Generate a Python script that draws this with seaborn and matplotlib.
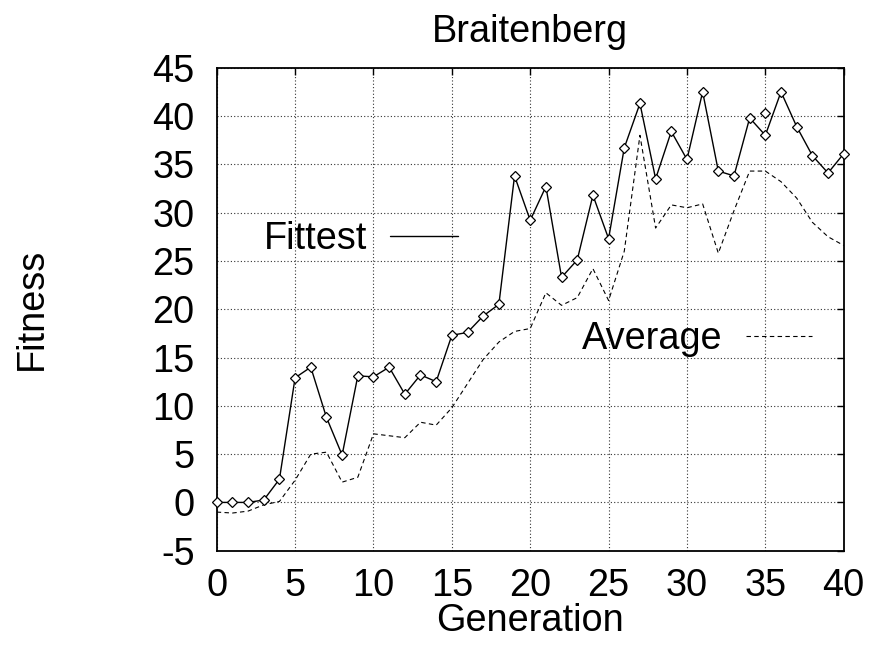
import matplotlib
matplotlib.use("Agg")
import matplotlib.pyplot as plt
from matplotlib.lines import Line2D
import seaborn as sns
import pandas as pd

# ---- data ----
generations = list(range(41))
fittest = [0.0, 0.0, 0.0, 0.25, 2.4, 12.9, 14.0, 8.8, 4.9, 13.1,
           13.0, 14.0, 11.2, 13.2, 12.5, 17.3, 17.6, 19.3, 20.5, 33.8,
           29.2, 32.7, 23.3, 25.1, 31.8, 27.3, 36.7, 41.3, 33.5, 38.4,
           35.5, 42.5, 34.3, 33.8, 39.8, 38.0, 42.5, 38.9, 35.9, 34.1,
           36.1]
average = [-1.0, -1.1, -0.9, -0.25, 0.1, 2.3, 5.0, 5.2, 2.1, 2.6,
           7.1, 6.9, 6.7, 8.3, 8.0, 9.8, 12.3, 14.8, 16.6, 17.7,
           18.0, 21.7, 20.4, 21.2, 24.2, 20.9, 26.0, 38.0, 28.4, 30.8,
           30.5, 30.9, 25.8, 30.2, 34.3, 34.3, 33.2, 31.5, 29.0, 27.5,
           26.6]
extra_x = [35]
extra_y = [40.3]

x_ticks = [0, 5, 10, 15, 20, 25, 30, 35, 40]
y_ticks = [-5, 0, 5, 10, 15, 20, 25, 30, 35, 40, 45]

title = "Braitenberg"
x_label = "Generation"
y_label = "Fitness"

df = pd.DataFrame({"Generation": generations, "Fittest": fittest, "Average": average})
df_extra = pd.DataFrame({"Generation": extra_x, "Fittest": extra_y})

# ---- style ----
sns.set_style("white")
plt.rcParams["font.family"] = ["Liberation Sans", "DejaVu Sans"]
plt.rcParams["text.color"] = "black"
plt.rcParams["axes.labelcolor"] = "black"
plt.rcParams["xtick.color"] = "black"
plt.rcParams["ytick.color"] = "black"
FS = 27.3

fig = plt.figure(figsize=(8.69, 6.46), dpi=100)
ax = fig.add_axes([0.2494, 0.1475, 0.7215, 0.7477])

sns.lineplot(data=df, x="Generation", y="Fittest", ax=ax, color="black", lw=1.0,
             marker="D", markersize=5, markerfacecolor="white",
             markeredgecolor="black", markeredgewidth=0.9, clip_on=False, zorder=4)
sns.lineplot(data=df, x="Generation", y="Average", ax=ax, color="black", lw=0.8,
             linestyle=(0, (4, 3)))
sns.scatterplot(data=df_extra, x="Generation", y="Fittest", ax=ax, marker="D",
                s=25, facecolor="white", edgecolor="black", linewidth=0.9, zorder=4)

ax.set_xlim(0, 40)
ax.set_ylim(-5, 45)
ax.set_xticks(x_ticks)
ax.set_yticks(y_ticks)
ax.set_xticklabels([str(v) for v in x_ticks])
ax.set_yticklabels([str(v) for v in y_ticks])

ax.grid(True, color="#333333", lw=0.8, linestyle=(0, (1, 2)))
for s in ax.spines.values():
    s.set_visible(True)
    s.set_color("black")
    s.set_linewidth(1.3)

ax.tick_params(axis="both", direction="in", length=5, width=1.0, top=True,
               right=True, labelsize=FS, colors="black")
ax.tick_params(axis="x", pad=12.5)
ax.tick_params(axis="y", pad=16)

ax.set_title(title, fontsize=FS, pad=18.5, color="black")
ax.set_xlabel(x_label, fontsize=FS, color="black")
ax.set_ylabel(y_label, fontsize=FS, color="black")
ax.xaxis.set_label_coords(0.5, -0.108)
ax.yaxis.set_label_coords(-0.266, 0.5)

# ---- free-floating keys (gnuplot style) ----
h_fit = Line2D([], [], color="black", lw=1.0)
h_avg = Line2D([], [], color="black", lw=0.8, linestyle=(0, (4, 3)))
leg1 = ax.legend([h_fit], ["Fittest"], loc="center left", bbox_to_anchor=(0.0748, 0.645),
                 frameon=False, markerfirst=False, fontsize=FS, borderpad=0,
                 borderaxespad=0, handlelength=1.8, handletextpad=0.6)
for t in leg1.get_texts():
    t.set_color("black")
ax.add_artist(leg1)
leg2 = ax.legend([h_avg], ["Average"], loc="center left", bbox_to_anchor=(0.582, 0.438),
                 frameon=False, markerfirst=False, fontsize=FS, borderpad=0,
                 borderaxespad=0, handlelength=1.75, handletextpad=0.62)
for t in leg2.get_texts():
    t.set_color("black")

fig.savefig("out.png", dpi=100)
